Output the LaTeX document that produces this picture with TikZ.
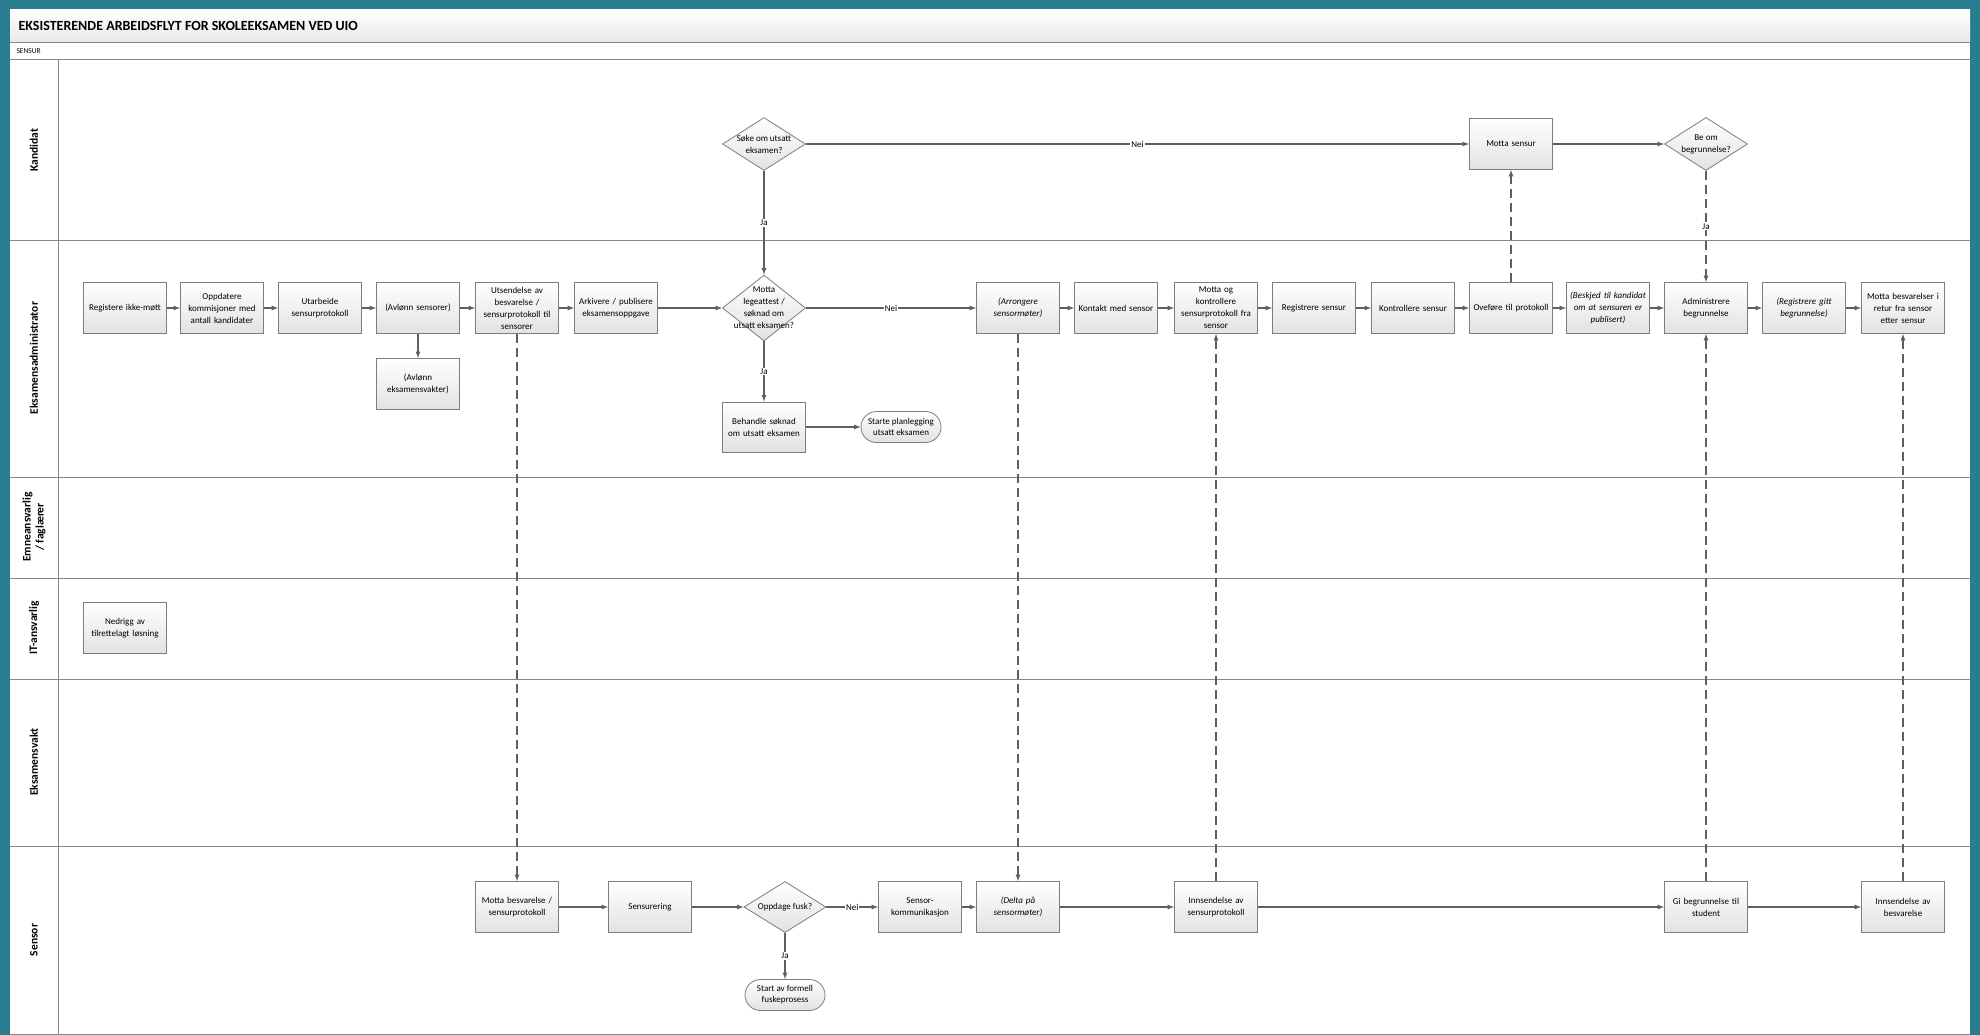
\documentclass[tikz,border=0pt]{standalone}
\usepackage{fontspec}
\setmainfont{Carlito}
\usetikzlibrary{shapes.geometric,shapes.misc}

\definecolor{frameteal}{RGB}{42,124,143}
\definecolor{linegray}{RGB}{95,95,95}
\definecolor{boxgray}{RGB}{125,125,125}
\definecolor{lanegray}{RGB}{135,135,135}
\definecolor{shadegray}{RGB}{226,226,226}

\tikzset{
  task/.style={draw=boxgray, line width=0.8pt, top color=white, bottom color=shadegray,
    minimum width=83pt, minimum height=51pt, text width=79pt, align=center,
    inner sep=1pt, font=\fontsize{9}{12}\selectfont},
  choice/.style={diamond, draw=boxgray, line width=0.8pt, top color=white, bottom color=shadegray,
    minimum width=83pt, minimum height=53pt, inner sep=0pt},
  choicetext/.style={align=center, inner sep=0pt, font=\fontsize{9}{12}\selectfont},
  endpoint/.style={rounded rectangle, draw=boxgray, line width=0.8pt, top color=white,
    bottom color=shadegray, minimum width=82pt, minimum height=31pt, align=center,
    inner sep=1pt, font=\fontsize{9}{11}\selectfont},
  flow/.style={draw=linegray, line width=1.2pt, -latex},
  message/.style={flow, dash pattern=on 9pt off 5pt},
  answer/.style={fill=white, inner sep=1pt, font=\fontsize{9}{10}\selectfont},
  lanename/.style={rotate=90, align=center, font=\bfseries\fontsize{11.5}{13}\selectfont}
}

\begin{document}
\begin{tikzpicture}[x=1pt, y=-1pt]
  \useasboundingbox (0,0) rectangle (1980,1035);
  % frame and headers
  \fill[frameteal] (0,0) rectangle (1980,1035);
  \fill[white] (10,10) rectangle (1970,1035);
  \shade[top color=white, bottom color=black!9] (10,10) rectangle (1970,42);
  \draw[lanegray, line width=0.8pt] (10,42) -- (1970,42);
  \draw[lanegray, line width=0.8pt] (10,59) -- (1970,59);
  \node[anchor=west, font=\bfseries\fontsize{14}{16}\selectfont] (title) at (15,26)
    {EKSISTERENDE ARBEIDSFLYT FOR SKOLEEKSAMEN VED UIO};
  \node[anchor=west, font=\fontsize{7.5}{8}\selectfont] (phase) at (13,51) {SENSUR};

  % lanes
  \draw[lanegray, line width=0.8pt] (58,59) -- (58,1035);
  \foreach \y in {240,477,578,679,846,1034}
    \draw[lanegray, line width=0.8pt] (10,\y) -- (1970,\y);
  \node[lanename] (lkandidat) at (34,150) {Kandidat};
  \node[lanename] (ladmin) at (34,358) {Eksamensadministrator};
  \node[lanename, font=\bfseries\fontsize{11.5}{13}\selectfont] (lemne) at (34,527) {Emneansvarlig\\/ faglærer};
  \node[lanename] (lit) at (34,628) {IT-ansvarlig};
  \node[lanename] (lvakt) at (34,762) {Eksamensvakt};
  \node[lanename] (lsensor) at (34,940) {Sensor};

  % Kandidat
  \node[choice, label={[choicetext]center:Søke om utsatt\\eksamen?}] (soke) at (764,144) {};
  \node[task] (mottasensur) at (1511,144) {Motta sensur};
  \node[choice, label={[choicetext]center:Be om\\begrunnelse?}] (beom) at (1706,144) {};

  % Eksamensadministrator
  \node[task] (reg) at (125,308) {Registere ikke-møtt};
  \node[task] (oppd) at (222,308) {Oppdatere\\kommisjoner med\\antall kandidater};
  \node[task] (utarb) at (320,308) {Utarbeide\\sensurprotokoll};
  \node[task] (avlsens) at (418,308) {(Avlønn sensorer)};
  \node[task] (utsend) at (517,308) {Utsendelse av\\besvarelse /\\sensurprotokoll til\\sensorer};
  \node[task] (arkiv) at (616,308) {Arkivere / publisere\\eksamensoppgave};
  \node[choice, minimum height=66pt,
    label={[choicetext]center:Motta\\legeattest /\\søknad om\\utsatt eksamen?}] (legeatt) at (764,308) {};
  \node[task, font=\itshape\fontsize{9}{12}\selectfont] (arrang) at (1018,308) {(Arrongere\\sensormøter)};
  \node[task] (kontakt) at (1116,308) {Kontakt med sensor};
  \node[task] (mottakontr) at (1216,308) {Motta og\\kontrollere\\sensurprotokoll fra\\sensor};
  \node[task] (regsensur) at (1314,308) {Registrere sensur};
  \node[task] (kontrsensur) at (1413,308) {Kontrollere sensur};
  \node[task] (overfor) at (1511,308) {Oveføre til protokoll};
  \node[task, font=\itshape\fontsize{9}{12}\selectfont] (beskjed) at (1608,308) {(Beskjed til kandidat\\om at sensuren er\\publisert)};
  \node[task] (admbegr) at (1706,308) {Administrere\\begrunnelse};
  \node[task, font=\itshape\fontsize{9}{12}\selectfont] (regbegr) at (1804,308) {(Registrere gitt\\begrunnelse)};
  \node[task] (mottaretur) at (1903,308) {Motta besvarelser i\\retur fra sensor\\etter sensur};
  \node[task] (avlvakt) at (418,384) {(Avlønn\\eksamensvakter)};
  \node[task, minimum height=50pt] (behandle) at (764,427) {Behandle søknad\\om utsatt eksamen};
  \node[endpoint] (starte) at (901,427) {Starte planlegging\\utsatt eksamen};

  % IT-ansvarlig
  \node[task] (nedrigg) at (125,628) {Nedrigg av\\tilrettelagt løsning};

  % Sensor
  \node[task] (mottabesv) at (517,907) {Motta besvarelse /\\sensurprotokoll};
  \node[task] (sensurering) at (650,907) {Sensurering};
  \node[choice, minimum width=82pt, minimum height=51pt,
    label={[choicetext]center:Oppdage fusk?}] (fusk) at (785,907) {};
  \node[task] (senskomm) at (920,907) {Sensor-\\kommunikasjon};
  \node[task, font=\itshape\fontsize{9}{12}\selectfont] (delta) at (1018,907) {(Delta på\\sensormøter)};
  \node[task] (innsprot) at (1216,907) {Innsendelse av\\sensurprotokoll};
  \node[task] (gibegr) at (1706,907) {Gi begrunnelse til\\student};
  \node[task] (innsbesv) at (1903,907) {Innsendelse av\\besvarelse};
  \node[endpoint] (fuskeprosess) at (785,995) {Start av formell\\fuskeprosess};

  % flow in the lanes
  \draw[flow] (reg) -- (oppd);
  \draw[flow] (oppd) -- (utarb);
  \draw[flow] (utarb) -- (avlsens);
  \draw[flow] (avlsens) -- (utsend);
  \draw[flow] (utsend) -- (arkiv);
  \draw[flow] (arkiv) -- (legeatt);
  \draw[flow] (legeatt) -- node[answer] {Nei} (arrang);
  \draw[flow] (legeatt) -- node[answer] {Ja} (behandle);
  \draw[flow] (behandle) -- (starte);
  \draw[flow] (avlsens) -- (avlvakt);
  \draw[flow] (arrang) -- (kontakt);
  \draw[flow] (kontakt) -- (mottakontr);
  \draw[flow] (mottakontr) -- (regsensur);
  \draw[flow] (regsensur) -- (kontrsensur);
  \draw[flow] (kontrsensur) -- (overfor);
  \draw[flow] (overfor) -- (beskjed);
  \draw[flow] (beskjed) -- (admbegr);
  \draw[flow] (admbegr) -- (regbegr);
  \draw[flow] (regbegr) -- (mottaretur);
  \draw[flow] (soke) -- node[answer] {Ja} (legeatt);
  \draw[flow] (soke) -- node[answer] {Nei} (mottasensur);
  \draw[flow] (mottasensur) -- (beom);
  \draw[flow] (mottabesv) -- (sensurering);
  \draw[flow] (sensurering) -- (fusk);
  \draw[flow] (fusk) -- node[answer] {Nei} (senskomm);
  \draw[flow] (fusk) -- node[answer] {Ja} (fuskeprosess);
  \draw[flow] (senskomm) -- (delta);
  \draw[flow] (delta) -- (innsprot);
  \draw[flow] (innsprot) -- (gibegr);
  \draw[flow] (gibegr) -- (innsbesv);

  % messages between lanes
  \draw[message] (beom) -- node[answer] {Ja} (admbegr);
  \draw[message] (overfor) -- (mottasensur);
  \draw[message] (utsend) -- (mottabesv);
  \draw[message] (arrang) -- (delta);
  \draw[message] (innsprot) -- (mottakontr);
  \draw[message] (gibegr) -- (admbegr);
  \draw[message] (innsbesv) -- (mottaretur);
\end{tikzpicture}
\end{document}
